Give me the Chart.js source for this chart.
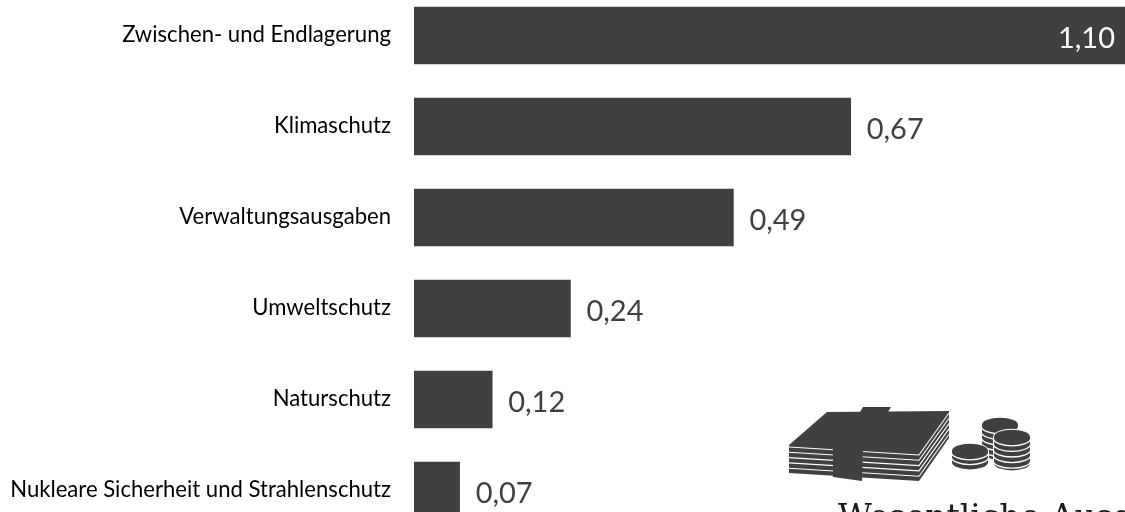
<!DOCTYPE html>
<html lang="de">
<head>
<meta charset="utf-8">
<title>Wesentliche Ausgaben</title>
<script src="https://cdn.jsdelivr.net/npm/chart.js@4"></script>
<style>
  html, body { margin: 0; padding: 0; width: 1125px; height: 512px; overflow: hidden; background: #fff; }
  #wrap { position: absolute; left: 0; top: -10px; width: 1131px; height: 546px; }
  #chart { display: block; }
</style>
</head>
<body>
<div id="wrap"><canvas id="chart"></canvas></div>
<script>
const categories = [
  "Zwischen- und Endlagerung",
  "Klimaschutz",
  "Verwaltungsausgaben",
  "Umweltschutz",
  "Naturschutz",
  "Nukleare Sicherheit und Strahlenschutz"
];
const amounts = [1.10, 0.67, 0.49, 0.24, 0.12, 0.07];
const valueLabels = ["1,10", "0,67", "0,49", "0,24", "0,12", "0,07"];
const captionText = "Wesentliche Ausgaben";
const barColor = "#404040";

// Value labels: outside the bar end, except the longest bar which carries it inside.
const valueLabelPlugin = {
  id: "valueLabels",
  afterDatasetsDraw(chart) {
    const { ctx } = chart;
    const bars = chart.getDatasetMeta(0).data;
    ctx.save();
    ctx.font = '29px "Lato"';
    ctx.textBaseline = "middle";
    bars.forEach((bar, i) => {
      const inside = amounts[i] >= 1;
      ctx.fillStyle = inside ? "#ffffff" : "#404040";
      ctx.textAlign = inside ? "right" : "left";
      ctx.fillText(valueLabels[i], inside ? bar.x - 16 : bar.x + 16, bar.y + 3);
    });
    ctx.restore();
  }
};

// Banknote bundle and coin stacks with the caption underneath.
const emblemPlugin = {
  id: "emblem",
  afterDraw(chart) {
    const { ctx } = chart;
    ctx.save();
    ctx.translate(0, 10);

    const poly = (pts, fill) => {
      ctx.beginPath();
      pts.forEach((p, i) => i ? ctx.lineTo(p[0], p[1]) : ctx.moveTo(p[0], p[1]));
      ctx.closePath();
      ctx.fillStyle = fill;
      ctx.fill();
    };

    // Solid bundle with thin white edges separating the sheets.
    poly([[789, 445], [827, 412], [949, 411], [949, 438], [919, 481], [789, 473]], barColor);
    ctx.strokeStyle = "#ffffff";
    ctx.lineWidth = 1.1;
    for (let k = 0; k < 5; k++) {
      const d = k * 5.3;
      ctx.beginPath();
      ctx.moveTo(789, 447 + d);
      ctx.lineTo(919, 455 + d);
      ctx.lineTo(949, 413 + d);
      ctx.stroke();
    }
    // Paper band round the bundle.
    poly([[863, 407], [891, 407], [888, 412], [863, 450], [862, 481], [833, 477], [833, 449], [840, 430], [860, 412]], barColor);

    // One coin stack: dark body, white rims under the top face, white outline.
    const coinStack = (cx, topY, bottomY, rx, ry, gap) => {
      ctx.beginPath();
      ctx.ellipse(cx, topY, rx, ry, 0, Math.PI, 0);
      ctx.lineTo(cx + rx, bottomY - ry);
      ctx.ellipse(cx, bottomY - ry, rx, ry, 0, 0, Math.PI);
      ctx.closePath();
      ctx.strokeStyle = "#ffffff";
      ctx.lineWidth = 2;
      ctx.stroke();
      ctx.fillStyle = barColor;
      ctx.fill();
      ctx.lineWidth = 1.3;
      for (let y = topY + 1.5; y < bottomY - ry - 1; y += gap) {
        ctx.beginPath();
        ctx.ellipse(cx, y, rx + 0.6, ry, 0, 0, Math.PI);
        ctx.stroke();
      }
    };
    coinStack(1000, 425, 460, 18, 7.3, 5.6);
    coinStack(970, 451, 469.5, 18, 7.3, 4.8);
    coinStack(1012, 437, 470.5, 18, 7.3, 5.6);

    ctx.font = '33px "DejaVu Serif"';
    ctx.fillStyle = "#1a1a1a";
    ctx.textAlign = "left";
    ctx.textBaseline = "alphabetic";
    ctx.fillText(captionText, 838, 528);
    ctx.restore();
  }
};

new Chart(document.getElementById("chart"), {
  type: "bar",
  data: {
    labels: categories,
    datasets: [{
      data: amounts,
      backgroundColor: barColor,
      borderWidth: 0,
      barThickness: 57
    }]
  },
  options: {
    indexAxis: "y",
    responsive: true,
    maintainAspectRatio: false,
    animation: false,
    layout: { padding: 0 },
    plugins: { legend: { display: false }, tooltip: { enabled: false } },
    scales: {
      x: { display: false, min: 0, max: 1.10 },
      y: {
        afterFit(scale) {
          scale.width = 414;
          // Let the category band fill the full canvas height.
          scale.paddingTop = 0;
          scale.paddingBottom = 0;
        },
        border: { display: false },
        grid: { display: false },
        ticks: {
          color: "#000000",
          font: { family: "Lato", size: 22.1 },
          padding: 15,
          labelOffset: -1,
          crossAlign: "near"
        }
      }
    }
  },
  plugins: [valueLabelPlugin, emblemPlugin]
});
</script>
</body>
</html>
